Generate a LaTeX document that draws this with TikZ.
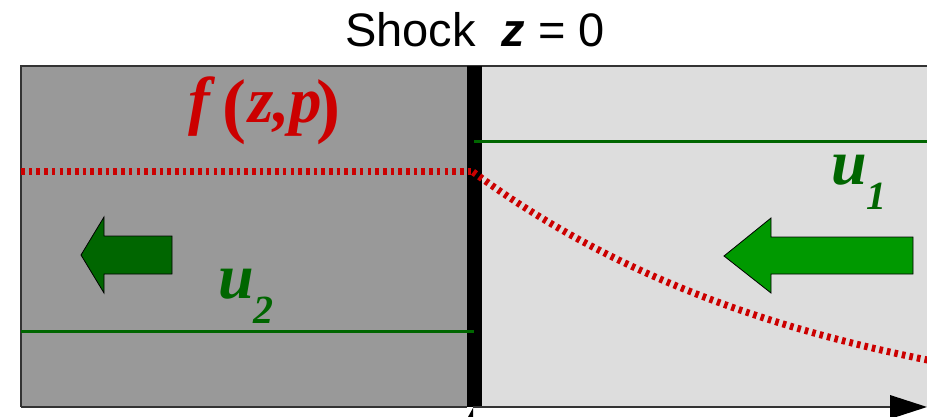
\documentclass[tikz,border=0pt]{standalone}
\usepackage{fontspec}
\setmainfont{Liberation Serif}
\newfontfamily\arialf{Liberation Sans}
\definecolor{leftgray}{HTML}{999999}
\definecolor{rightgray}{HTML}{DDDDDD}
\definecolor{darkgr}{HTML}{006600}
\definecolor{brightgr}{HTML}{009900}
\definecolor{redf}{HTML}{CC0000}
\definecolor{edge}{HTML}{333333}
\tikzset{
  border/.style={draw=edge, line width=1.6pt},
  greenline/.style={draw=darkgr, line width=3pt},
  reddots/.style={draw=redf, line width=7pt, dash pattern=on 3.6pt off 4.1pt},
  blockarrow/.style={draw=black, line width=0.8pt, line join=miter},
  ulabel/.style={text=darkgr, font=\fontsize{64}{64}\selectfont\bfseries\itshape, inner sep=0pt, anchor=base west},
  usub/.style={text=darkgr, font=\fontsize{40}{40}\selectfont\bfseries\itshape, inner sep=0pt, anchor=base west},
  flab/.style={text=redf, font=\fontsize{65}{65}\selectfont\bfseries\itshape, inner sep=0pt, anchor=base west},
  fparen/.style={text=redf, font=\fontsize{72}{72}\selectfont\bfseries, inner sep=0pt, anchor=base west},
}
\begin{document}
\begin{tikzpicture}[x=1pt,y=-1pt]
\useasboundingbox (0,0) rectangle (927,417);
\clip (0,0) rectangle (927,417);
% regions
\fill[leftgray] (21,66) rectangle (467,407);
\fill[rightgray] (482,66) rectangle (940,407);
\draw[border] (21,407) -- (21,66) -- (940,66);
\draw[border] (21,407) -- (467,407);
% shock bar
\fill[black] (467,66) rectangle (482,407);
% title
\node[font=\arialf\fontsize{47}{47}\selectfont, inner sep=0pt, anchor=base] (title) at (475,47) {Shock\ \ \textbf{\textit{z}} = 0};
% velocity lines
\coordinate (gl1a) at (474,142);
\coordinate (gl1b) at (940,142);
\coordinate (gl2a) at (21,331);
\coordinate (gl2b) at (474,331);
\draw[greenline] (gl1a) -- (gl1b);
\draw[greenline] (gl2a) -- (gl2b);
% distribution function
\coordinate (fa) at (21,172);
\coordinate (fb) at (473,172);
\draw[reddots] (fa) -- (fb);
\draw[reddots] plot[domain=473:935, samples=80] (\x, {172+258.6*(1-exp(-(\x-473)/350))});
\node[flab] (ff) at (188,123) {f};
\node[fparen] (fl) at (222,130) {(};
\node[flab] (fzp) at (248,123) {z,p};
\node[fparen] (fr) at (316,130) {)};
% block arrows
\draw[blockarrow, fill=brightgr] (724,256) -- (771,218) -- (771,237) -- (913,237) -- (913,274) -- (771,274) -- (771,293) -- cycle;
\draw[blockarrow, fill=darkgr] (81,255) -- (104,217) -- (104,236) -- (172,236) -- (172,274) -- (104,274) -- (104,293) -- cycle;
% labels
\node[ulabel] (u1) at (831,185) {u};
\node[usub] (u1s) at (866,210) {1};
\node[ulabel] (u2) at (218,298) {u};
\node[usub] (u2s) at (253,323) {2};
% axis
\coordinate (ax0) at (473,407);
\coordinate (ax1) at (925,407);
\draw[draw=edge, line width=1.6pt] (ax0) -- (890,407);
\fill[black] (890,395) -- (927,407) -- (890,419) -- cycle;
\fill[black] (468,417) -- (473,408) -- (473,417) -- cycle;
\end{tikzpicture}
\end{document}
